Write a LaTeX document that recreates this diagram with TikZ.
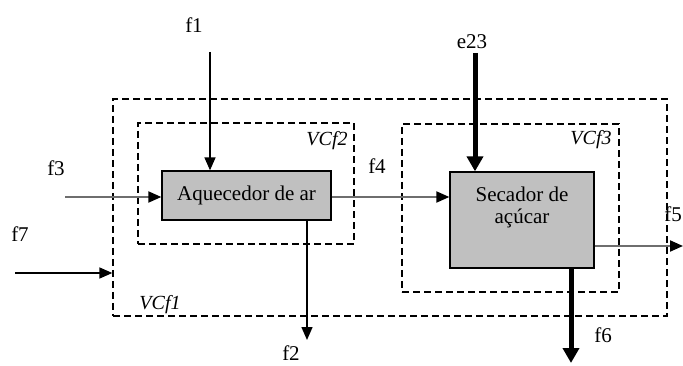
\documentclass[tikz,border=0pt]{standalone}
\usepackage{fontspec}
\setmainfont{Liberation Serif}
\usetikzlibrary{arrows.meta}
\definecolor{boxgray}{RGB}{192,192,192}
\definecolor{flowgray}{RGB}{110,110,110}
\begin{document}
\begin{tikzpicture}[x=1pt,y=-1pt,
  every node/.style={font=\fontsize{21}{24}\selectfont},
  vc/.style={draw, line width=1.3pt, dash pattern=on 7pt off 4pt, inner sep=0pt},
  unit/.style={draw, line width=1.3pt, fill=boxgray, inner sep=0pt},
  flow/.style={line width=1.5pt, -{Triangle[length=13pt,width=11pt]}},
  gflow/.style={line width=2pt, draw=flowgray, -{Triangle[length=13pt,width=11pt,color=black]}},
  heavy/.style={line width=5pt, -{Triangle[length=15pt,width=16pt]}},
  vclab/.style={font=\itshape\fontsize{20}{24}\selectfont, inner sep=0pt},
  lab/.style={inner sep=0pt}
]
\useasboundingbox (0,0) rectangle (683,366);
% control volumes
\node[vc, minimum width=554pt, minimum height=217pt] (vc1) at (390,207.5) {};
\node[vc, minimum width=216pt, minimum height=121pt] (vc2) at (246,183.5) {};
\node[vc, minimum width=217pt, minimum height=168pt] (vc3) at (510.5,208) {};
\node[vclab] (vc1lab) at (160,305) {VCf1};
\node[vclab] (vc2lab) at (327,141) {VCf2};
\node[vclab] (vc3lab) at (591,140) {VCf3};
% units
\node[unit, minimum width=169pt, minimum height=49pt] (aq) at (246.5,195.5) {Aquecedor de ar};
\node[unit, minimum width=144pt, minimum height=96pt] (sec) at (522,220) {};
\node[lab, align=center, font=\fontsize{21}{22}\selectfont] (sectext) at (522,207) {Secador de\\açúcar};
% free ends
\coordinate (f1s) at (210,52);
\coordinate (f3s) at (65,197);
\coordinate (f7s) at (15,273);
\coordinate (f2e) at (307,340);
\coordinate (e23s) at (475,53);
\coordinate (f6e) at (571,363);
\coordinate (f5e) at (683,246);
% flows
\draw[flow] (f1s) -- (f1s |- aq.north);
\draw[gflow] (f3s) -- (aq.west |- f3s);
\draw[flow] (f7s) -- (vc1.west |- f7s);
\draw[flow] (f2e |- aq.south) -- (f2e);
\draw[gflow] (aq.east |- 0,197) -- (sec.west |- 0,197);
\draw[heavy] (e23s) -- (e23s |- sec.north);
\draw[heavy] (f6e |- sec.south) -- (f6e);
\draw[gflow] (sec.east |- f5e) -- (f5e);
% labels
\node[lab] (f1lab) at (194,25) {f1};
\node[lab] (e23lab) at (472,42) {e23};
\node[lab] (f3lab) at (56,168) {f3};
\node[lab] (f7lab) at (20,234) {f7};
\node[lab] (f4lab) at (377,166) {f4};
\node[lab, anchor=south] (f2lab) at (291,361) {f2};
\node[lab, anchor=east] (f5lab) at (682,214) {f5};
\node[lab] (f6lab) at (603,335) {f6};
\end{tikzpicture}
\end{document}
